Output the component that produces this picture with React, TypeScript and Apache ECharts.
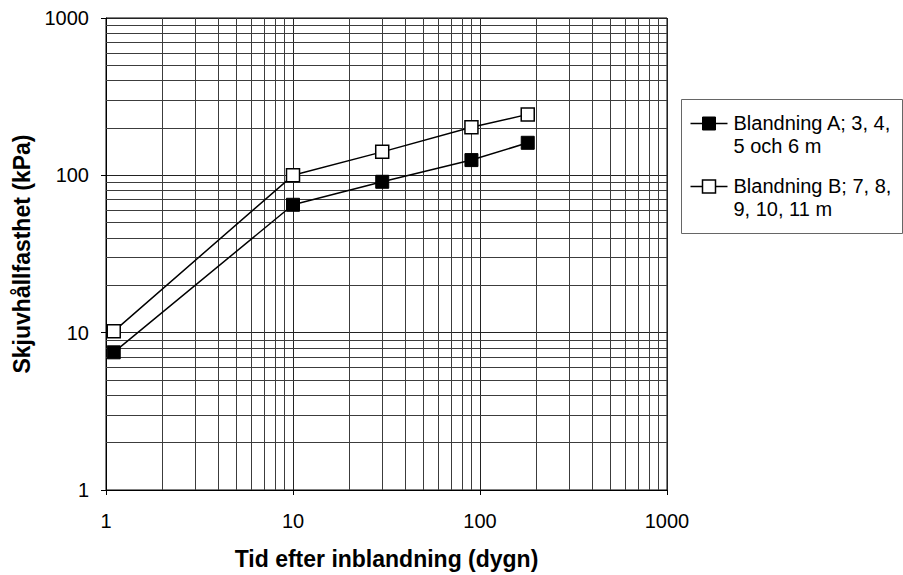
import React, { useEffect, useRef } from "react";
import * as echarts from "echarts";

// Curing time (days) and shear strength (kPa) for the two mixes
const days = [1.1, 10, 30, 90, 180];
const blandningA = [7.5, 65, 91, 125, 161];
const blandningB = [10.2, 100, 141, 202, 244];
const seriesNames = ["Blandning A; 3, 4,\n5 och 6 m", "Blandning B; 7, 8,\n9, 10, 11 m"];

// Decade values and the intermediate grid values within each decade
const majorTicks = [1, 10, 100, 1000];
const minorGrid = [2, 3, 4, 5, 6, 7, 8, 9, 20, 30, 40, 50, 60, 70, 80, 90, 200, 300, 400, 500, 600, 700, 800, 900];

const xTitle = "Tid efter inblandning (dygn)";
const yTitle = "Skjuvhållfasthet (kPa)";

const FONT = '"Liberation Sans", Arial, Helvetica, sans-serif';

export default function App() {
  const ref = useRef<HTMLDivElement>(null);

  useEffect(() => {
    if (!ref.current) return;
    const chart = echarts.init(ref.current, undefined, { renderer: "svg" });

    const G = { left: 106, top: 18, width: 561, height: 474 };

    const logAxis = (name: string, isX: boolean) => ({
      type: "log" as const,
      logBase: 10,
      min: majorTicks[0],
      max: majorTicks[majorTicks.length - 1],
      interval: 1,
      name,
      nameLocation: "middle" as const,
      nameGap: isX ? 57 : 65,
      nameTextStyle: { fontFamily: FONT, fontSize: 23, fontWeight: "bold" as const, color: "#000" },
      axisLine: { show: true, lineStyle: { color: "#000", width: 1 } },
      axisTick: { show: true, inside: false, length: 5, lineStyle: { color: "#000" } },
      axisLabel: {
        fontFamily: FONT,
        fontSize: 20,
        color: "#000",
        margin: isX ? 21 : 17,
        formatter: (v: number) => String(Math.round(v)),
      },
      splitLine: { show: true, lineStyle: { color: "#222", width: 1 } },
      minorTick: { show: false },
    });

    const gridLine = (v: number, key: "xAxis" | "yAxis") => ({ [key]: v });

    chart.setOption({
      animation: false,
      backgroundColor: "#fff",
      grid: { ...G, show: true, borderColor: "#000", borderWidth: 1, backgroundColor: "transparent" },
      xAxis: logAxis(xTitle, true),
      yAxis: logAxis(yTitle, false),
      series: [
        {
          type: "line",
          name: "grid",
          data: [],
          silent: true,
          z: 1,
          markLine: {
            silent: true,
            symbol: ["none", "none"],
            label: { show: false },
            emphasis: { disabled: true },
            lineStyle: { color: "#3c3c3c", width: 1, type: "solid" },
            data: [
              ...minorGrid.map((v) => gridLine(v, "xAxis")),
              ...minorGrid.map((v) => gridLine(v, "yAxis")),
            ],
          },
        },
        {
          type: "line",
          name: seriesNames[0],
          z: 5,
          data: days.map((d, i) => [d, blandningA[i]]),
          symbol: "rect",
          symbolSize: 13,
          itemStyle: { color: "#000", borderColor: "#000", borderWidth: 1 },
          lineStyle: { color: "#000", width: 1.5 },
        },
        {
          type: "line",
          name: seriesNames[1],
          z: 5,
          data: days.map((d, i) => [d, blandningB[i]]),
          symbol: "rect",
          symbolSize: 13,
          itemStyle: { color: "#fff", borderColor: "#000", borderWidth: 1.5 },
          lineStyle: { color: "#000", width: 1.5 },
        },
      ],
      graphic: [
        {
          type: "group",
          left: 681,
          top: 99,
          children: [
            {
              type: "rect",
              shape: { x: 0, y: 0, width: 221, height: 134 },
              style: { fill: "#fff", stroke: "#666", lineWidth: 1 },
            },
            { type: "line", shape: { x1: 9, y1: 24, x2: 46, y2: 24 }, style: { stroke: "#000", lineWidth: 1.5 } },
            { type: "rect", shape: { x: 21, y: 17.5, width: 13, height: 13 }, style: { fill: "#000", stroke: "#000", lineWidth: 1 } },
            {
              type: "text",
              x: 52,
              y: 12,
              style: { text: seriesNames[0], font: `20px ${FONT}`, fill: "#000", lineHeight: 23, verticalAlign: "top" },
            },
            { type: "line", shape: { x1: 9, y1: 87, x2: 46, y2: 87 }, style: { stroke: "#000", lineWidth: 1.5 } },
            { type: "rect", shape: { x: 21, y: 80.5, width: 13, height: 13 }, style: { fill: "#fff", stroke: "#000", lineWidth: 1.5 } },
            {
              type: "text",
              x: 52,
              y: 75,
              style: { text: seriesNames[1], font: `20px ${FONT}`, fill: "#000", lineHeight: 23, verticalAlign: "top" },
            },
          ],
        },
      ],
    });

    return () => chart.dispose();
  }, []);

  return (
    <div
      ref={ref}
      style={{ position: "fixed", left: 0, top: 0, width: 903, height: 575, background: "#fff" }}
    />
  );
}
